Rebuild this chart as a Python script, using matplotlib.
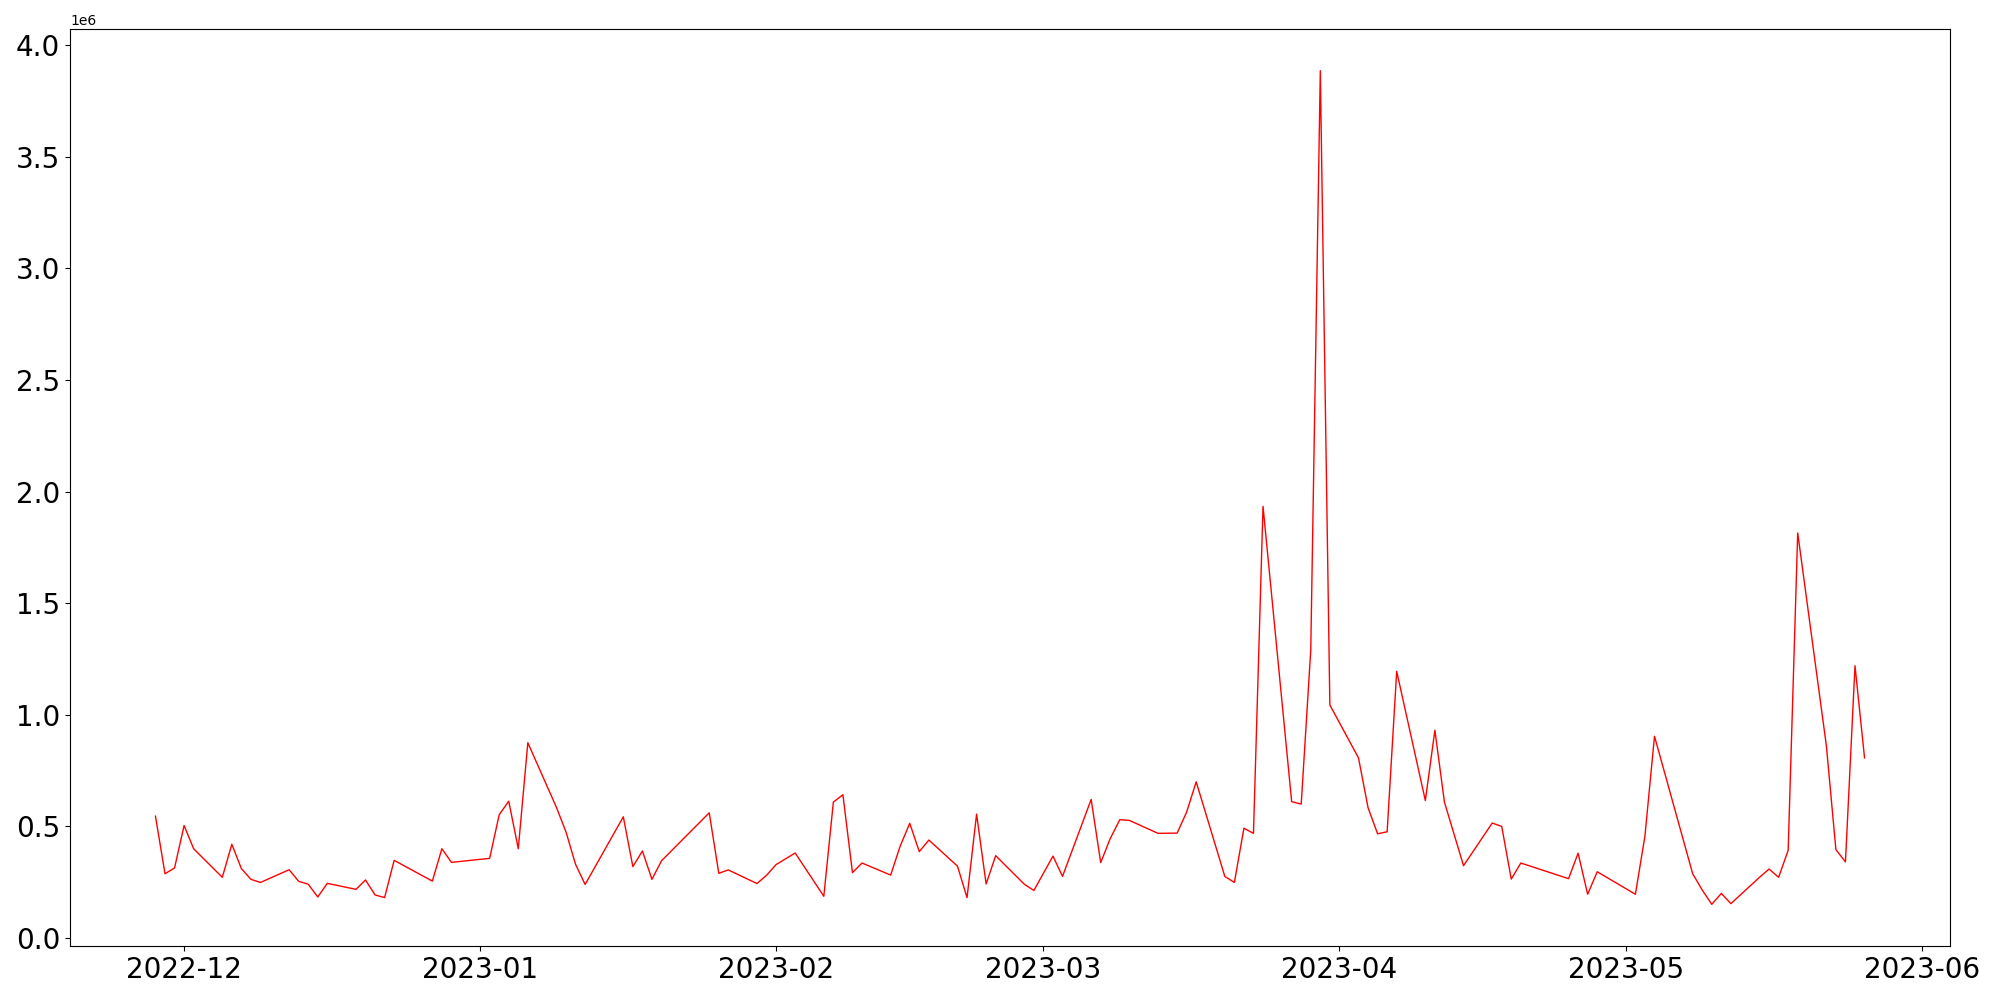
import matplotlib
matplotlib.use("Agg")
import matplotlib.pyplot as plt
import pandas as pd

dates = [
    "2022-11-28", "2022-11-29", "2022-11-30", "2022-12-01", "2022-12-02",
    "2022-12-05", "2022-12-06", "2022-12-07", "2022-12-08", "2022-12-09",
    "2022-12-12", "2022-12-13", "2022-12-14", "2022-12-15", "2022-12-16",
    "2022-12-19", "2022-12-20", "2022-12-21", "2022-12-22", "2022-12-23",
    "2022-12-27", "2022-12-28", "2022-12-29",
    "2023-01-02", "2023-01-03", "2023-01-04", "2023-01-05", "2023-01-06",
    "2023-01-09", "2023-01-10", "2023-01-11", "2023-01-12",
    "2023-01-16", "2023-01-17", "2023-01-18", "2023-01-19", "2023-01-20",
    "2023-01-25", "2023-01-26", "2023-01-27", "2023-01-30", "2023-01-31",
    "2023-02-01", "2023-02-03", "2023-02-06", "2023-02-07", "2023-02-08",
    "2023-02-09", "2023-02-10", "2023-02-13", "2023-02-14", "2023-02-15",
    "2023-02-16", "2023-02-17", "2023-02-20", "2023-02-21", "2023-02-22",
    "2023-02-23", "2023-02-24", "2023-02-27", "2023-02-28",
    "2023-03-02", "2023-03-03", "2023-03-06", "2023-03-07", "2023-03-08",
    "2023-03-09", "2023-03-10", "2023-03-13", "2023-03-15", "2023-03-16",
    "2023-03-17", "2023-03-20", "2023-03-21", "2023-03-22", "2023-03-23",
    "2023-03-24", "2023-03-27", "2023-03-28", "2023-03-29", "2023-03-30",
    "2023-03-31", "2023-04-03", "2023-04-04", "2023-04-05", "2023-04-06",
    "2023-04-07", "2023-04-10", "2023-04-11", "2023-04-12", "2023-04-14",
    "2023-04-17", "2023-04-18", "2023-04-19", "2023-04-20", "2023-04-25",
    "2023-04-26", "2023-04-27", "2023-04-28", "2023-05-02", "2023-05-03",
    "2023-05-04", "2023-05-08", "2023-05-09", "2023-05-10", "2023-05-11",
    "2023-05-12", "2023-05-15", "2023-05-16", "2023-05-17", "2023-05-18",
    "2023-05-19", "2023-05-22", "2023-05-23", "2023-05-24", "2023-05-25",
    "2023-05-26",
]

values = [
    546000, 288000, 314000, 504000, 400000,
    272000, 420000, 311000, 263000, 249000,
    306000, 254000, 241000, 184000, 245000,
    218000, 260000, 193000, 181000, 348000,
    255000, 400000, 339000,
    357000, 552000, 613000, 400000, 875000,
    585000, 475000, 330000, 240000,
    543000, 320000, 390000, 263000, 346000,
    561000, 290000, 305000, 244000, 281000,
    329000, 381000, 187000, 609000, 642000,
    293000, 336000, 282000, 412000, 514000,
    387000, 439000, 322000, 181000, 555000,
    242000, 369000, 241000, 213000,
    367000, 276000, 621000, 338000, 446000,
    530000, 527000, 469000, 470000, 564000,
    700000, 276000, 249000, 492000, 469000,
    1934000, 611000, 600000, 1290000, 3886000,
    1044000, 807000, 584000, 467000, 476000,
    1195000, 616000, 931000, 609000, 324000,
    515000, 500000, 264000, 336000, 266000,
    380000, 196000, 297000, 196000, 457000,
    904000, 288000, 215000, 151000, 200000,
    154000, 272000, 309000, 272000, 393000,
    1815000, 862000, 396000, 341000, 1220000,
    807000,
]

x = pd.to_datetime(dates)

fig, ax = plt.subplots(figsize=(20, 10), dpi=100)
ax.plot(x, values, color="red", linewidth=1.0)
ax.tick_params(axis="both", labelsize=20)
fig.subplots_adjust(left=0.035, right=0.975, top=0.971, bottom=0.054)
fig.savefig("out.png")
